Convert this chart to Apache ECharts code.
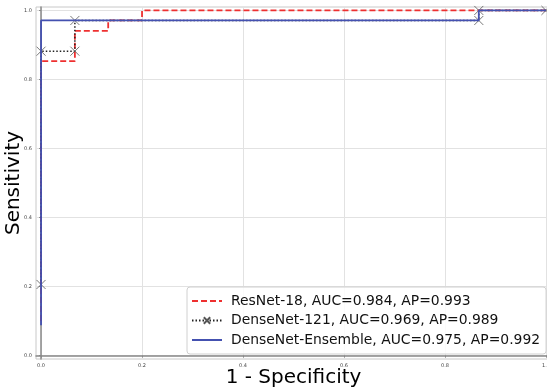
<!DOCTYPE html>
<html><head><meta charset="utf-8">
<script src="https://cdn.jsdelivr.net/npm/echarts@6/dist/echarts.min.js"></script>
<style>html,body{margin:0;padding:0;background:#fff}#c{width:547px;height:389px}</style>
</head><body><div id="c"></div>
<script>
var seriesNames = ['ResNet-18, AUC=0.984, AP=0.993', 'DenseNet-121, AUC=0.969, AP=0.989', 'DenseNet-Ensemble, AUC=0.975, AP=0.992'];
var resnetFPR = [0, 0, 0.067, 0.067, 0.133, 0.133, 0.2, 0.2, 1];
var resnetTPR = [0.1, 0.853, 0.853, 0.941, 0.941, 0.971, 0.971, 1.0, 1.0];
var denseFPR = [0, 0, 0.067, 0.067, 0.867, 0.867, 1];
var denseTPR = [0.206, 0.882, 0.882, 0.971, 0.971, 1.0, 1.0];
var ensFPR = [0, 0, 0.867, 0.867, 1];
var ensTPR = [0.088, 0.971, 0.971, 1.0, 1.0];
var tickValues = [0, 0.2, 0.4, 0.6, 0.8, 1.0];

function pairs(xs, ys){ return xs.map(function(x,i){ return [x, ys[i]]; }); }
var tickFmt = function(v){ return v === 1 ? '1.0' : v.toFixed(1); };

var chart = echarts.init(document.getElementById('c'), null, {renderer: 'canvas'});
chart.setOption({
  animation: false,
  backgroundColor: '#fff',
  textStyle: {fontFamily: 'DejaVu Sans'},
  grid: {left: 36, right: -4, top: 7, bottom: 30, containLabel: false, outerBoundsMode: 'none',
         show: true, borderColor: '#c8c8c8', borderWidth: 1},
  xAxis: {
    type: 'value', min: -0.01, max: 1.01,
    name: '1 - Specificity', nameLocation: 'middle', nameGap: 9, nameMoveOverlap: false,
    nameTextStyle: {fontSize: 20, color: '#000', fontFamily: 'DejaVu Sans', verticalAlign: 'top'},
    axisLine: {show: true, lineStyle: {color: '#888', width: 1.5}},
    axisTick: {show: true, length: 2, lineStyle: {color: '#888'}, customValues: tickValues},
    axisLabel: {fontSize: 5, color: '#444', margin: 4, formatter: tickFmt, customValues: tickValues},
    splitLine: {show: true, lineStyle: {color: '#e2e2e2', width: 1}}
  },
  yAxis: {
    type: 'value', min: -0.01, max: 1.01,
    name: 'Sensitivity', nameLocation: 'middle', nameGap: 12, nameMoveOverlap: false,
    nameTextStyle: {fontSize: 20, color: '#000', fontFamily: 'DejaVu Sans', verticalAlign: 'bottom'},
    axisLine: {show: true, lineStyle: {color: '#888', width: 1.5}},
    axisTick: {show: true, length: 2, lineStyle: {color: '#888'}, customValues: tickValues},
    axisLabel: {fontSize: 5, color: '#444', margin: 4, formatter: tickFmt, customValues: tickValues},
    splitLine: {show: true, lineStyle: {color: '#e2e2e2', width: 1}}
  },
  legend: {
    orient: 'vertical', left: 187, top: 287,
    padding: [6, 6, 6, 4],
    itemWidth: 30, itemHeight: 8, itemGap: 3.5,
    borderColor: '#d0d0d0', borderWidth: 1, borderRadius: 3,
    backgroundColor: 'rgba(255,255,255,0.85)',
    textStyle: {fontSize: 13.9, color: '#111', fontFamily: 'DejaVu Sans', padding: [0, 0, 0, 4], lineHeight: 16},
    data: [
      {name: seriesNames[0], itemStyle: {opacity: 0}},
      {name: seriesNames[1]},
      {name: seriesNames[2], itemStyle: {opacity: 0}}
    ]
  },
  series: [
    {
      name: seriesNames[0], type: 'line', data: pairs(resnetFPR, resnetTPR),
      showSymbol: false, symbol: 'none', z: 2,
      lineStyle: {color: '#ee3030', width: 1.8, type: [6, 3]},
      itemStyle: {color: '#ee3030'}
    },
    {
      name: seriesNames[1], type: 'line', data: pairs(denseFPR, denseTPR),
      symbol: 'path://M0,0L10,10M10,0L0,10', symbolSize: 9, z: 3,
      lineStyle: {color: '#222', width: 1.5, type: [1.5, 2]},
      itemStyle: {color: 'rgba(0,0,0,0)', borderColor: '#555', borderWidth: 0.8}
    },
    {
      name: seriesNames[2], type: 'line', data: pairs(ensFPR, ensTPR),
      showSymbol: false, symbol: 'none', z: 4,
      lineStyle: {color: '#4451b0', width: 1.8},
      itemStyle: {color: '#4451b0'}
    }
  ]
});
</script></body></html>
